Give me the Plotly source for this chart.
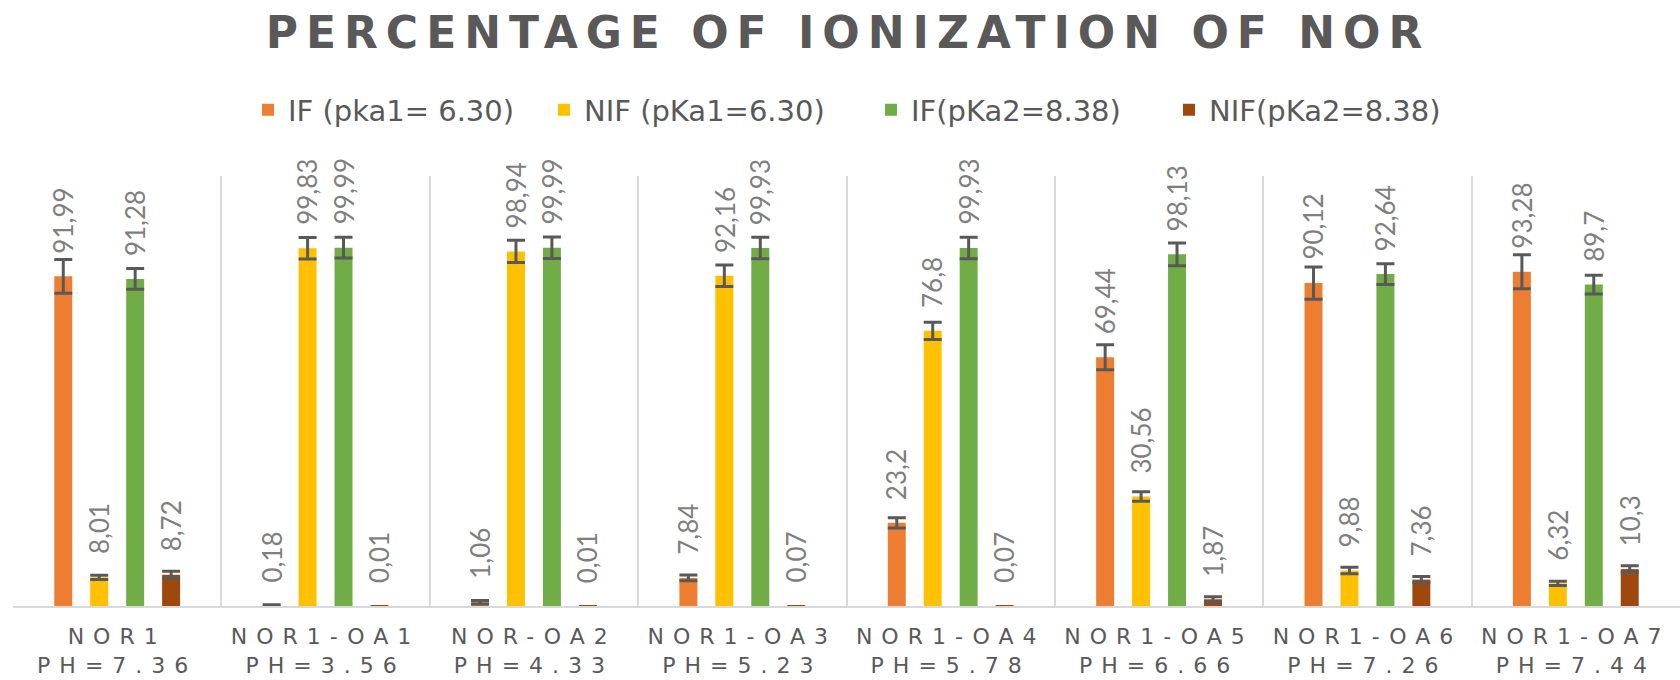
import numpy as np
import plotly.graph_objects as go

# ---------------- data ----------------
categories = ["NOR1", "NOR1-OA1", "NOR-OA2", "NOR1-OA3", "NOR1-OA4", "NOR1-OA5", "NOR1-OA6", "NOR1-OA7"]
ph_labels = ["PH=7.36", "PH=3.56", "PH=4.33", "PH=5.23", "PH=5.78", "PH=6.66", "PH=7.26", "PH=7.44"]

series_names = ["IF (pka1= 6.30)", "NIF (pKa1=6.30)", "IF(pKa2=8.38)", "NIF(pKa2=8.38)"]

if_pka1 = [91.99, 0.18, 1.06, 7.84, 23.2, 69.44, 90.12, 93.28]
nif_pka1 = [8.01, 99.83, 98.94, 92.16, 76.8, 30.56, 9.88, 6.32]
if_pka2 = [91.28, 99.99, 99.99, 99.93, 99.93, 98.13, 92.64, 89.7]
nif_pka2 = [8.72, 0.01, 0.01, 0.07, 0.07, 1.87, 7.36, 10.3]

err_if_pka1 = [4.7, 0.2, 0.5, 0.8, 1.4, 3.5, 4.5, 4.75]
err_nif_pka1 = [0.6, 3.0, 3.1, 3.0, 2.4, 1.3, 0.9, 0.6]
err_if_pka2 = [2.9, 2.9, 3.0, 3.0, 3.0, 3.2, 2.9, 2.6]
err_nif_pka2 = [1.0, None, None, None, None, 0.7, 0.9, 0.9]

colors = ["#ED7D31", "#FFC000", "#70AD47", "#9E480E"]

# ---------------- layout constants ----------------
W, H = 1680, 680
ML, MR, MT, MB = 13, 0, 176, 74
BARGAP, GROUPGAP = 0.31, 0.5
legend_square_px = [270, 566, 893, 1191]
legend_y_px = 110

plot_w = W - ML - MR
plot_h = H - MT - MB
slot = plot_w / len(categories) * (1 - BARGAP) / 4

values = [if_pka1, nif_pka1, if_pka2, nif_pka2]
errors = [err_if_pka1, err_nif_pka1, err_if_pka2, err_nif_pka2]

fig = go.Figure()
legend_ids = ["legend", "legend2", "legend3", "legend4"]
for i, (name, vals, errs, col) in enumerate(zip(series_names, values, errors, colors)):
    err_arr = np.array([np.nan if e is None else e for e in errs], dtype=float)
    fig.add_trace(go.Bar(
        x=categories, y=vals, name=name,
        marker=dict(color=col, line=dict(width=0)),
        error_y=dict(type="data", array=err_arr, visible=True,
                     color="#595959", thickness=3, width=9),
        legend=legend_ids[i],
        hoverinfo="x+y",
    ))

# invisible helper trace so the second category axis (pH labels) has its categories
fig.add_trace(go.Scatter(x=categories, y=[0] * len(categories), xaxis="x2",
                         mode="markers", marker=dict(opacity=0),
                         showlegend=False, hoverinfo="skip"))

def fmt(v):
    return str(v).replace(".", ",")

annotations = []
for i, vals in enumerate(values):
    for j, v in enumerate(vals):
        annotations.append(dict(
            x=categories[j], y=v, xref="x", yref="y",
            text=fmt(v), showarrow=False, textangle=-90,
            xanchor="center", yanchor="bottom",
            xshift=(i - 1.5) * slot, yshift=21,
            font=dict(family="Liberation Sans Narrow, Lato, sans-serif", size=26, color="#7f7f7f"),
        ))

legends = {}
for i, lid in enumerate(legend_ids):
    legends[lid] = dict(
        x=(legend_square_px[i] - 22 - ML) / plot_w,
        y=(H - MB - legend_y_px) / plot_h,
        xanchor="left", yanchor="middle",
        orientation="h", bgcolor="rgba(0,0,0,0)",
        font=dict(family="DejaVu Sans", size=29, color="#595959"),
    )

fig.update_layout(
    width=W, height=H,
    margin=dict(l=ML, r=MR, t=MT, b=MB, autoexpand=False),
    paper_bgcolor="white", plot_bgcolor="white",
    barmode="group", bargap=BARGAP, bargroupgap=GROUPGAP,
    title=dict(text="PERCENTAGE OF IONIZATION OF NOR",
               x=848 / W, xanchor="center", y=1 - 33 / H, yanchor="middle",
               font=dict(family="DejaVu Sans", size=44, color="#595959", weight=700)),
    xaxis=dict(type="category", categoryorder="array", categoryarray=categories,
               range=[-0.5, len(categories) - 0.5],
               showgrid=True, gridcolor="#d9d9d9", gridwidth=2, tickson="boundaries",
               showline=True, linecolor="#d9d9d9", linewidth=2, ticks="",
               ticklabelstandoff=10,
               tickfont=dict(family="DejaVu Sans", size=22, color="#595959")),
    xaxis2=dict(type="category", categoryorder="array", categoryarray=categories,
                range=[-0.5, len(categories) - 0.5], overlaying="x", anchor="y", side="bottom",
                showgrid=False, showline=False, ticks="", zeroline=False,
                ticklabelstandoff=44,
                tickfont=dict(family="DejaVu Sans", size=22, color="#595959"),
                tickmode="array", tickvals=categories, ticktext=ph_labels),
    yaxis=dict(range=[0, 120], visible=False, showgrid=False, zeroline=False),
    annotations=annotations,
    showlegend=True,
    **legends,
)

post = """
document.body.style.margin = '0';
var gd = document.getElementById('{plot_id}');
function spacing(){
  gd.querySelectorAll('.gtitle').forEach(function(e){ e.style.letterSpacing='8px'; });
  gd.querySelectorAll('.xtick text, .x2tick text').forEach(function(e){ e.style.letterSpacing='9px'; });
}
spacing();
if (gd.on) { gd.on('plotly_afterplot', spacing); }
"""

fig.write_html("out.html", post_script=post, config={"displayModeBar": False})
